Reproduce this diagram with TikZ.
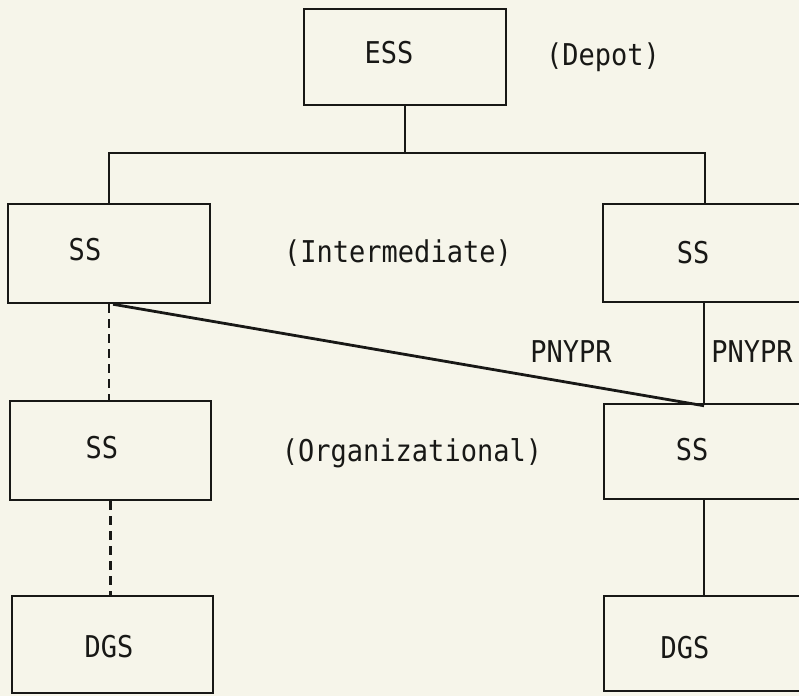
\documentclass[tikz,border=0pt]{standalone}
\usepackage{fontspec}
\newfontfamily\diagfont[FakeStretch=0.9]{DejaVu Sans Mono}
\definecolor{paper}{RGB}{246,245,234}
\definecolor{ink}{RGB}{24,24,22}
\begin{document}
\begin{tikzpicture}[x=1pt,y=-1pt,
  box/.style={draw=ink,line width=2.5pt,minimum width=#1,inner sep=0pt},
  box/.default=202pt,
  lbl/.style={anchor=base,inner sep=0pt,text=ink,font=\diagfont\fontsize{30}{33}\selectfont},
  conn/.style={draw=ink,line width=2.2pt},
  dconn/.style={draw=ink,line width=2.2pt,dash pattern=on 9pt off 6pt}]
\useasboundingbox (0,0) rectangle (799,696);
\fill[paper] (0,0) rectangle (799,696);
\clip (0,0) rectangle (799,696);
% boxes
\node[box=202pt,minimum height=96pt] (ESS) at (405,57) {};
\node[box=202pt,minimum height=99pt] (LSS1) at (109,253.5) {};
\node[box=227pt,minimum height=98pt] (RSS1) at (716.5,253) {};
\node[box=201pt,minimum height=99pt] (LSS2) at (110.5,450.5) {};
\node[box=226pt,minimum height=95pt] (RSS2) at (717,451.5) {};
\node[box=201pt,minimum height=97pt] (LDGS) at (112.5,644.5) {};
\node[box=226pt,minimum height=95pt] (RDGS) at (717,643.5) {};
% texts
\node[lbl] (tESS) at (389,63) {ESS};
\node[lbl] (tDepot) at (603,65) {(Depot)};
\node[lbl] (tLSS1) at (85,260) {SS};
\node[lbl] (tInter) at (398,262) {(Intermediate)};
\node[lbl] (tRSS1) at (693,263) {SS};
\node[lbl] (tP1) at (571,362) {PNYPR};
\node[lbl] (tP2) at (752,362) {PNYPR};
\node[lbl] (tLSS2) at (102,458) {SS};
\node[lbl] (tOrg) at (412,461) {(Organizational)};
\node[lbl] (tRSS2) at (692,460) {SS};
\node[lbl] (tLDGS) at (109,657) {DGS};
\node[lbl] (tRDGS) at (685,658) {DGS};
% connector helpers
\coordinate (busL) at (109,153);
\coordinate (busR) at (705,153);
\coordinate (rx) at (704,0);
% connectors
\draw[conn] (ESS.south) -- (ESS.south |- busL);
\draw[conn] (LSS1.north -| busL) -- (busL) -- (busR) -- (RSS1.north -| busR);
\draw[dconn] (LSS1.south) -- (LSS1.south |- LSS2.north);
\draw[dconn] (LSS2.south) -- (LSS2.south |- LDGS.north);
\draw[conn] (RSS1.south -| rx) -- (RSS2.north -| rx);
\draw[conn] (RSS2.south -| rx) -- (RDGS.north -| rx);
\draw[draw=ink,line width=2.8pt] ([xshift=4pt]LSS1.south) -- ([yshift=-3pt]RSS2.north -| rx);
\end{tikzpicture}
\end{document}
